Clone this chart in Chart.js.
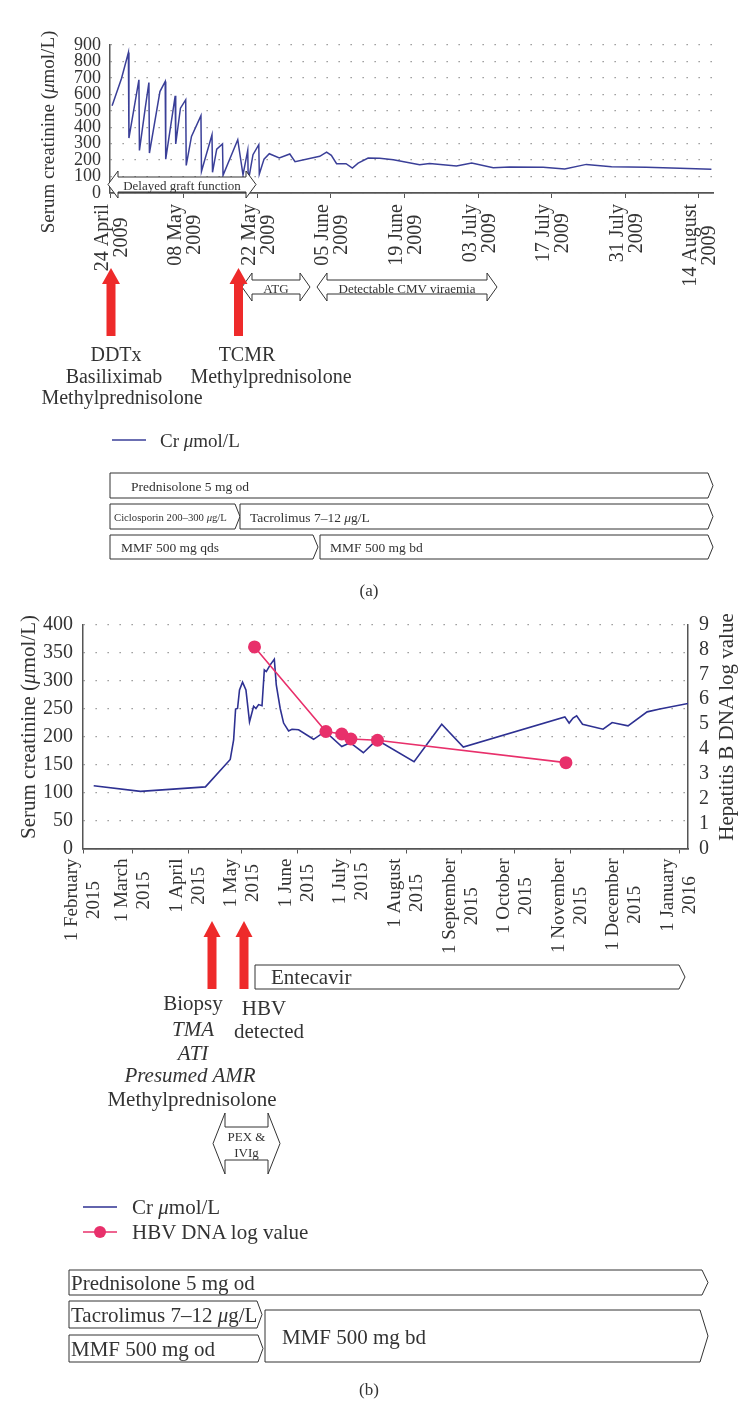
<!DOCTYPE html>
<html>
<head>
<meta charset="utf-8">
<script src="https://cdn.jsdelivr.net/npm/chart.js@4.4.1/dist/chart.umd.min.js"></script>
<style>
  html, body { margin: 0; padding: 0; background: #fff; }
  #page { position: relative; width: 738px; height: 1403px; overflow: hidden; }
  canvas { position: absolute; left: 0; }
  #chartA { top: 0; }
  #chartB { top: 600px; }
  #notes { position: absolute; left: 0; top: 0; font-family: 'Liberation Serif', serif; }
</style>
</head>
<body>
<div id="page">
  <canvas id="chartA" width="738" height="360"></canvas>
  <canvas id="chartB" width="738" height="370"></canvas>
  <svg id="notes" width="738" height="1403"></svg>
</div>
<script>
// (a) creatinine after transplant, x = days since 24 April 2009
const crNameA = 'Cr μmol/L';
const crDaysA = [0.4, 2.2, 3.5, 3.6, 5.5, 5.6, 6.7, 7.4, 7.5, 9.5, 10.5, 10.6, 12.4, 12.5, 13.4, 14.4, 14.5,
  15.5, 17.3, 17.4, 19.4, 19.5, 20.3, 21.4, 21.5, 24.3, 25.3, 26.2, 26.3, 27.2, 28.3, 28.4, 29.3, 30.3,
  32.2, 34.2, 35.2, 39.9, 41.2, 42.1, 43.1, 44.9, 46.1, 47.2, 49.1, 51.3, 53.9, 58.9, 60.8, 65.9, 68.8,
  72.9, 76.0, 82.4, 86.5, 90.6, 95.4, 102.0, 108.4, 114.4];
const crValsA = [530, 698, 854, 334, 688, 259, 516, 672, 243, 617, 678, 206, 591, 298, 516, 567, 168,
  344, 470, 132, 354, 126, 267, 298, 107, 324, 111, 259, 71, 233, 294, 115, 206, 239,
  213, 237, 190, 223, 249, 229, 178, 178, 152, 182, 213, 211, 202, 172, 180, 164, 182,
  154, 158, 156, 146, 174, 160, 156, 150, 144];
const tickDaysA = [0, 14, 28, 42, 56, 70, 84, 98, 112];
const tickLabelsA = ['24 April 2009', '08 May 2009', '22 May 2009', '05 June 2009', '19 June 2009',
  '03 July 2009', '17 July 2009', '31 July 2009', '14 August 2009'];

// (b) creatinine and HBV DNA, x = days since 1 February 2015
const crNameB = 'Cr μmol/L';
const hbvName = 'HBV DNA log value';
const crDaysB = [6.0, 32.2, 68.6, 82.5, 84.4, 85.5, 86.6, 87.7, 89.4, 91.3, 93.3, 95.6, 96.9, 98.4, 100.3,
  101.6, 102.7, 104.9, 107.2, 108.3, 110.5, 112.4, 115.2, 117.1, 120.8, 129.2, 135.7, 145.0, 149.7,
  157.1, 164.6, 185.5, 201.0, 213.1, 270.0, 272.4, 274.6, 276.6, 279.9, 291.4, 296.5, 305.4, 316.1,
  323.2, 339.0];
const crValsB = [112, 102, 110, 159, 194, 249, 250, 283, 297, 283, 226, 254, 250, 257, 255,
  319, 316, 328, 338, 292, 250, 224, 210, 213, 212, 195, 209, 182, 189,
  171, 194, 155, 222, 181, 235, 224, 233, 237, 222, 213, 225, 219, 244,
  249, 259];
const hbvDays = [96.1, 136.1, 145.0, 150.1, 165.0, 270.6];
const hbvVals = [8.1, 4.7, 4.6, 4.4, 4.35, 3.45];
const tickDaysB = [0, 28, 59, 89, 120, 150, 181, 212, 242, 273, 303, 334];
const tickLabelsB = ['1 February 2015', '1 March 2015', '1 April 2015', '1 May 2015', '1 June 2015',
  '1 July 2015', '1 August 2015', '1 September 2015', '1 October 2015', '1 November 2015',
  '1 December 2015', '1 January 2016'];

const serif = 'Liberation Serif';
const ink = '#333';

// two-line rotated date labels, lines centred on each other like the original
const dateLabels = {
  id: 'dateLabels',
  afterDraw(chart, args, opts) {
    const sc = chart.scales.x, ctx = chart.ctx;
    ctx.save();
    ctx.font = opts.size + 'px "' + serif + '"';
    ctx.fillStyle = ink;
    ctx.textBaseline = 'middle';
    sc.ticks.forEach((t, i) => {
      const lines = opts.labels[i].split(/ (?=\d{4}$)/);
      const px = sc.getPixelForValue(t.value);
      const w0 = ctx.measureText(lines[0]).width;
      lines.forEach((s, k) => {
        ctx.save();
        ctx.translate(px + (k - opts.shift) * opts.gap, sc.top + opts.pad);
        ctx.rotate(-Math.PI / 2);
        ctx.textAlign = k === 0 ? 'right' : 'center';
        ctx.fillText(s, k === 0 ? 0 : -w0 / 2, 0);
        ctx.restore();
      });
    });
    ctx.restore();
  }
};

const pts = (xs, ys) => xs.map((x, i) => ({ x: x, y: ys[i] }));
const dots = { color: '#8a8a8a', lineWidth: 1.3, drawTicks: false };

new Chart(document.getElementById('chartA'), {
  type: 'line',
  data: {
    datasets: [{
      label: crNameA,
      data: pts(crDaysA, crValsA),
      borderColor: '#3a3f98',
      borderWidth: 1.5,
      pointRadius: 0,
      tension: 0
    }]
  },
  options: {
    responsive: false,
    animation: false,
    devicePixelRatio: 1,
    layout: { padding: { left: 0, right: 25, top: 45, bottom: 0 } },
    plugins: {
      legend: { display: false },
      tooltip: { enabled: false },
      dateLabels: { labels: tickLabelsA, size: 20, gap: 19, pad: 11, shift: 0.4 }
    },
    scales: {
      x: {
        type: 'linear', min: 0, max: 114.7,
        afterBuildTicks: s => { s.ticks = tickDaysA.map(v => ({ value: v })); },
        afterFit: s => { s.height = 167; },
        ticks: { display: false },
        grid: { drawOnChartArea: false, tickLength: 5, color: '#555' },
        border: { color: '#555', width: 1.8 }
      },
      y: {
        min: 0, max: 900,
        afterFit: s => { s.width = 110; },
        ticks: { stepSize: 100, autoSkip: false, padding: 9, color: ink, font: { family: serif, size: 18 } },
        grid: dots,
        border: { color: '#555', width: 1.5, dash: [1.3, 10.7] }
      }
    }
  },
  plugins: [dateLabels]
});

new Chart(document.getElementById('chartB'), {
  type: 'line',
  data: {
    datasets: [{
      label: hbvName,
      data: pts(hbvDays, hbvVals),
      yAxisID: 'y1',
      borderColor: '#e8306b',
      backgroundColor: '#e8306b',
      borderWidth: 1.6,
      pointRadius: 6.5,
      pointBorderWidth: 0,
      tension: 0
    }, {
      label: crNameB,
      data: pts(crDaysB, crValsB),
      yAxisID: 'y',
      borderColor: '#2e3192',
      borderWidth: 1.6,
      pointRadius: 0,
      tension: 0
    }]
  },
  options: {
    responsive: false,
    animation: false,
    devicePixelRatio: 1,
    layout: { padding: { left: 0, right: 0, top: 24.5, bottom: 0 } },
    plugins: {
      legend: { display: false },
      tooltip: { enabled: false },
      dateLabels: { labels: tickLabelsB, size: 19, gap: 22, pad: 10, shift: 0.5 }
    },
    scales: {
      x: {
        type: 'linear', min: 0, max: 339,
        afterBuildTicks: s => { s.ticks = tickDaysB.map(v => ({ value: v })); },
        afterFit: s => { s.height = 121.5; },
        ticks: { display: false },
        grid: { drawOnChartArea: false, tickLength: 5, color: '#555' },
        border: { color: '#555', width: 1.8 }
      },
      y: {
        position: 'left', min: 0, max: 400,
        afterFit: s => { s.width = 83; },
        ticks: { stepSize: 50, autoSkip: false, padding: 10, color: ink, font: { family: serif, size: 20 } },
        grid: dots,
        border: { color: '#555', width: 1.5, dash: [1.3, 10.7] }
      },
      y1: {
        position: 'right', min: 0, max: 9,
        afterFit: s => { s.width = 50; },
        ticks: { stepSize: 1, autoSkip: false, padding: 11, color: ink, font: { family: serif, size: 20 } },
        grid: { drawOnChartArea: false, drawTicks: false },
        border: { color: '#555', width: 1.5 }
      }
    }
  },
  plugins: [dateLabels]
});

// annotations, legends and treatment bars
const svg = document.getElementById('notes');
const NS = 'http://www.w3.org/2000/svg';
function el(tag, attrs, parent) {
  const e = document.createElementNS(NS, tag);
  for (const k in attrs) e.setAttribute(k, attrs[k]);
  (parent || svg).appendChild(e);
  return e;
}
function text(x, y, str, size, anchor, italic, rotate) {
  const a = { x: x, y: y, 'font-size': size, 'text-anchor': anchor || 'start', 'dominant-baseline': 'central', fill: ink };
  if (italic) a['font-style'] = 'italic';
  if (rotate) a.transform = 'rotate(-90 ' + x + ' ' + y + ')';
  const t = el('text', a);
  str.split(/(μ)/).forEach(part => {
    if (!part) return;
    const s = el('tspan', part === 'μ' ? { 'font-style': 'italic' } : {}, t);
    s.textContent = part;
  });
  return t;
}
function poly(p, fill, stroke) {
  el('polygon', { points: p.map(q => q.join(',')).join(' '), fill: fill, stroke: stroke || 'none', 'stroke-width': 1 });
}
function tag(x1, y1, x2, y2, d) {
  poly([[x1, y1], [x2 - d, y1], [x2, (y1 + y2) / 2], [x2 - d, y2], [x1, y2]], '#fff', '#333');
}
function twoWay(xl, xr, top, bot, head, flare) {
  const m = (top + bot) / 2;
  poly([[xl, m], [xl + head, top - flare], [xl + head, top], [xr - head, top], [xr - head, top - flare], [xr, m],
    [xr - head, bot + flare], [xr - head, bot], [xl + head, bot], [xl + head, bot + flare]], '#fff', '#333');
}
function redArrow(cx, tip, base, end, hw, sw) {
  poly([[cx, tip], [cx + hw, base], [cx + sw, base], [cx + sw, end], [cx - sw, end], [cx - sw, base], [cx - hw, base]], '#ee2a2a');
}
function legendLine(x1, x2, y, color, dot) {
  el('line', { x1: x1, y1: y, x2: x2, y2: y, stroke: color, 'stroke-width': 1.6 });
  if (dot) el('circle', { cx: (x1 + x2) / 2, cy: y, r: 6, fill: color });
}

// panel (a)
text(47, 132, 'Serum creatinine (μmol/L)', 19, 'middle', false, true);
twoWay(108, 256, 177, 192, 10, 6);
text(182, 185, 'Delayed graft function', 13, 'middle');
twoWay(242, 310, 280, 294, 10, 7);
text(276, 287.5, 'ATG', 13, 'middle');
twoWay(317, 497, 280, 294, 10, 7);
text(407, 287.5, 'Detectable CMV viraemia', 13, 'middle');
redArrow(111, 268, 284, 336, 9, 4.5);
redArrow(238.5, 268, 284, 336, 9, 4.5);
text(116, 354, 'DDTx', 20, 'middle');
text(114, 376, 'Basiliximab', 20, 'middle');
text(122, 397, 'Methylprednisolone', 20, 'middle');
text(247, 354, 'TCMR', 20, 'middle');
text(271, 376, 'Methylprednisolone', 20, 'middle');
legendLine(112, 146, 440, '#3a3f98');
text(160, 440, crNameA, 19);
tag(110, 473, 713, 498, 5);
text(131, 485.5, 'Prednisolone 5 mg od', 13.5);
tag(110, 504, 240, 529, 5);
text(114, 516.5, 'Ciclosporin 200–300 μg/L', 10.7);
tag(240, 504, 713, 529, 5);
text(250, 516.5, 'Tacrolimus 7–12 μg/L', 13.5);
tag(110, 535, 318, 559, 5);
text(121, 547, 'MMF 500 mg qds', 13.5);
tag(320, 535, 713, 559, 5);
text(330, 547, 'MMF 500 mg bd', 13.5);
text(369, 590, '(a)', 17, 'middle');

// panel (b)
text(28, 727, 'Serum creatinine (μmol/L)', 21, 'middle', false, true);
text(726, 727, 'Hepatitis B DNA log value', 21, 'middle', false, true);
redArrow(212, 921, 937, 989, 8.5, 4.5);
redArrow(244, 921, 937, 989, 8.5, 4.5);
tag(255, 965, 685, 989, 6);
text(271, 977, 'Entecavir', 21);
text(193, 1003, 'Biopsy', 21, 'middle');
text(193, 1029, 'TMA', 21, 'middle', true);
text(193, 1053, 'ATI', 21, 'middle', true);
text(190, 1075, 'Presumed AMR', 21, 'middle', true);
text(192, 1099, 'Methylprednisolone', 21, 'middle');
text(264, 1008, 'HBV', 21, 'middle');
text(269, 1031, 'detected', 21, 'middle');
twoWay(213, 280, 1127, 1160, 12, 14);
text(246.5, 1136, 'PEX &', 13, 'middle');
text(246.5, 1152, 'IVIg', 13, 'middle');
legendLine(83, 117, 1207, '#2e3192');
text(132, 1207, crNameB, 21);
legendLine(83, 117, 1232, '#e8306b', true);
text(132, 1232, hbvName, 21);
tag(69, 1270, 708, 1295, 6);
text(71, 1282.5, 'Prednisolone 5 mg od', 21);
tag(69, 1301, 262, 1328, 5);
text(71, 1314.5, 'Tacrolimus 7–12 μg/L', 21);
tag(69, 1335, 263, 1362, 5);
text(71, 1348.5, 'MMF 500 mg od', 21);
tag(265, 1310, 708, 1362, 8);
text(282, 1337, 'MMF 500 mg bd', 21);
text(369, 1389, '(b)', 17, 'middle');
</script>
</body>
</html>
